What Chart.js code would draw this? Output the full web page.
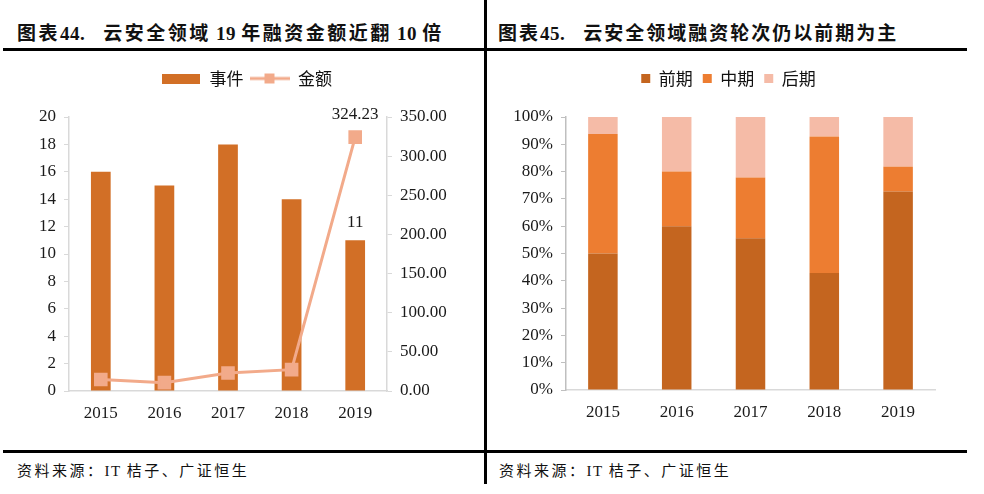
<!DOCTYPE html>
<html>
<head>
<meta charset="utf-8">
<script src="https://cdn.jsdelivr.net/npm/chart.js@4.4.0/dist/chart.umd.min.js"></script>
<style>
    body { margin: 0; width: 984px; height: 494px; background: #fff; position: relative; overflow: hidden; }
    .title { position: absolute; top: 18px; font: bold 19px 'Liberation Serif', 'Noto Sans CJK SC', serif; letter-spacing: 2.5px; color: #111; white-space: pre; }
    .title .n { letter-spacing: 0.5px; }
    .source { position: absolute; top: 459px; font: 15px 'Liberation Serif', 'Noto Sans CJK SC', serif; letter-spacing: 2.5px; color: #111; white-space: pre; }
    .source .n { letter-spacing: 1.5px; }
    .hline { position: absolute; height: 3px; background: #000; }
    .vline { position: absolute; width: 3px; background: #000; }
    canvas { position: absolute; }
</style>
</head>
<body>
<div class="title" style="left:17px">图表<span class="n">44.</span><span style="margin-left:18px">云安全领域</span><span class="n"> 19 </span>年融资金额近翻<span class="n"> 10 </span>倍</div>
<div class="title" style="left:498px; letter-spacing:2px">图表<span class="n">45.</span><span style="margin-left:18px">云安全领域融资轮次仍以前期为主</span></div>
<div class="hline" style="left:3px; width:482px; top:48px"></div>
<div class="hline" style="left:487px; width:480px; top:48px"></div>
<div class="hline" style="left:3px; width:964px; top:450px"></div>
<div class="vline" style="left:484px; top:0; height:484px"></div>
<div class="source" style="left:17px">资料来源：<span class="n">IT </span>桔子、广证恒生</div>
<div class="source" style="left:499px">资料来源：<span class="n">IT </span>桔子、广证恒生</div>
<canvas id="fundingChart" style="left:0; top:64px" width="485" height="376"></canvas>
<canvas id="stageChart" style="left:490px; top:60px" width="480" height="380"></canvas>
<script>
// Годы
const years = ['2015', '2016', '2017', '2018', '2019'];

// Левый график: число событий и сумма
const events = [16, 15, 18, 14, 11];
const amounts = [14.6, 10.7, 23, 27.3, 324.23];
const labeledIndex = 4;

// Правый график: доли стадий (%)
const earlyShare = [50, 60, 55.6, 42.9, 72.7];
const middleShare = [43.75, 20, 22.2, 50, 9.1];
const lateShare = [6.25, 20, 22.2, 7.1, 18.2];

const barColor = '#D26F26';
const lineColor = '#F2AA8A';
const tickFont = { family: "'Liberation Serif', 'Times New Roman', serif", size: 17 };
const legendFont = { family: "'Noto Sans CJK SC', sans-serif", size: 17 };
const axisColor = '#d9d9d9';

// Высота легенды и сдвиг по горизонтали
function legendBox(h, dx) {
    return {
        id: 'legendBox',
        beforeInit(chart) {
            const legend = chart.legend;
            const fit = legend.fit;
            legend.fit = function () {
                fit.call(this);
                this.height = h;
            };
            const draw = legend.draw;
            legend.draw = function () {
                chart.ctx.save();
                chart.ctx.translate(dx, 0);
                draw.call(this);
                chart.ctx.restore();
            };
        }
    };
}

// Образцы для легенды левого графика
function makeSwatch(w, h, draw) {
    const c = document.createElement('canvas');
    c.width = w;
    c.height = h;
    draw(c.getContext('2d'));
    return c;
}
const barSwatch = makeSwatch(38, 10, ctx => {
    ctx.fillStyle = barColor;
    ctx.fillRect(0, 0, 38, 10);
});
const lineSwatch = makeSwatch(40, 12, ctx => {
    ctx.strokeStyle = lineColor;
    ctx.lineWidth = 3;
    ctx.beginPath();
    ctx.moveTo(0, 6);
    ctx.lineTo(40, 6);
    ctx.stroke();
    ctx.fillStyle = lineColor;
    ctx.fillRect(15, 1, 10, 10);
});

// Подписи значений для 2019 года
const valueLabels = {
    id: 'valueLabels',
    afterDatasetsDraw(chart) {
        const ctx = chart.ctx;
        const bar = chart.getDatasetMeta(0).data[labeledIndex];
        const pt = chart.getDatasetMeta(1).data[labeledIndex];
        ctx.save();
        ctx.font = "17px 'Liberation Serif', 'Times New Roman', serif";
        ctx.fillStyle = '#1a1a1a';
        ctx.textAlign = 'center';
        ctx.textBaseline = 'middle';
        ctx.fillText(String(events[labeledIndex]), bar.x, bar.y - 18);
        ctx.fillText(amounts[labeledIndex].toFixed(2), pt.x, pt.y - 23);
        ctx.restore();
    }
};

new Chart(document.getElementById('fundingChart'), {
    data: {
        labels: years,
        datasets: [{
            type: 'bar',
            label: '事件',
            data: events,
            backgroundColor: barColor,
            barPercentage: 0.31,
            categoryPercentage: 1,
            yAxisID: 'y',
            order: 1
        }, {
            type: 'line',
            label: '金额',
            data: amounts,
            borderColor: lineColor,
            backgroundColor: lineColor,
            borderWidth: 3,
            pointStyle: 'rect',
            pointRadius: 7.5,
            tension: 0,
            yAxisID: 'y1',
            order: 0
        }]
    },
    options: {
        responsive: false,
        animation: false,
        layout: { padding: 0 },
        plugins: {
            legend: {
                position: 'top',
                labels: {
                    usePointStyle: true,
                    pointStyleWidth: 40,
                    padding: 6,
                    font: legendFont,
                    color: '#111',
                    sort: (a, b) => a.datasetIndex - b.datasetIndex,
                    generateLabels(chart) {
                        const items = Chart.defaults.plugins.legend.labels.generateLabels(chart);
                        items.forEach(item => {
                            item.pointStyle = item.datasetIndex === 0 ? barSwatch : lineSwatch;
                        });
                        return items;
                    }
                }
            },
            tooltip: { enabled: false }
        },
        scales: {
            x: {
                grid: { display: false, drawTicks: false },
                border: { color: axisColor, width: 1.5 },
                ticks: { font: tickFont, color: '#1a1a1a', padding: 12 },
                afterFit(scale) { scale.height = 49; }
            },
            y: {
                position: 'left',
                min: 0,
                max: 20,
                ticks: { stepSize: 2, font: tickFont, color: '#1a1a1a', padding: 8 },
                grid: { drawOnChartArea: false, tickLength: 5, color: axisColor },
                border: { color: axisColor, width: 1.5 },
                afterFit(scale) { scale.width = 69; }
            },
            y1: {
                position: 'right',
                min: 0,
                max: 350,
                ticks: {
                    stepSize: 50,
                    font: tickFont,
                    color: '#1a1a1a',
                    padding: 8,
                    callback: v => v.toFixed(2)
                },
                grid: { drawOnChartArea: false, tickLength: 5, color: axisColor },
                border: { color: axisColor, width: 1.5 },
                afterFit(scale) { scale.width = 98; }
            }
        }
    },
    plugins: [legendBox(53, 4), valueLabels]
});

new Chart(document.getElementById('stageChart'), {
    type: 'bar',
    data: {
        labels: years,
        datasets: [
            { label: '前期', data: earlyShare, backgroundColor: '#C4651F' },
            { label: '中期', data: middleShare, backgroundColor: '#ED7D31' },
            { label: '后期', data: lateShare, backgroundColor: '#F5BBA7' }
        ]
    },
    options: {
        responsive: false,
        animation: false,
        layout: { padding: { right: 35 } },
        datasets: { bar: { barPercentage: 0.4, categoryPercentage: 1 } },
        plugins: {
            legend: {
                position: 'top',
                labels: { boxWidth: 9, boxHeight: 9, padding: 10, font: legendFont, color: '#111' }
            },
            tooltip: { enabled: false }
        },
        scales: {
            x: {
                stacked: true,
                grid: { display: false, drawTicks: false },
                border: { color: axisColor, width: 1.5 },
                ticks: { font: tickFont, color: '#1a1a1a', padding: 12 },
                afterFit(scale) { scale.height = 50; }
            },
            y: {
                stacked: true,
                min: 0,
                max: 100,
                ticks: { stepSize: 10, font: tickFont, color: '#1a1a1a', padding: 8, callback: v => v + '%' },
                grid: { drawOnChartArea: false, tickLength: 5, color: '#bfbfbf' },
                border: { color: '#bfbfbf', width: 1.5 },
                afterFit(scale) { scale.width = 76; }
            }
        }
    },
    plugins: [legendBox(57, 16)]
});
</script>
</body>
</html>
